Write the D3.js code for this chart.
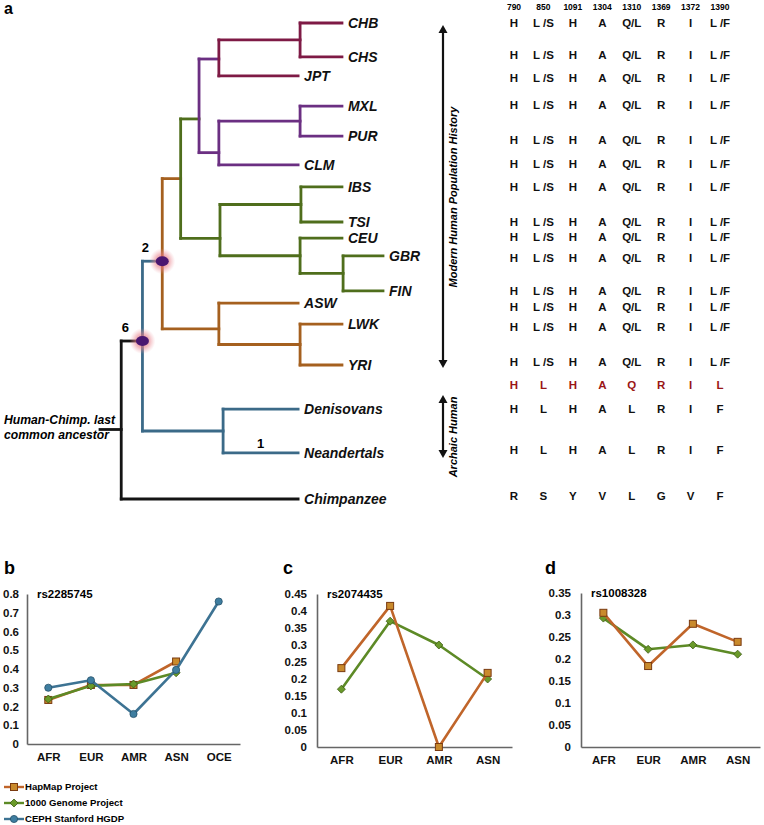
<!DOCTYPE html>
<html><head><meta charset="utf-8">
<script src="https://cdn.jsdelivr.net/npm/d3@7"></script>
<style>
body{margin:0;background:#fff;}
svg{display:block;font-family:"Liberation Sans",Arial,Helvetica,sans-serif;}
</style>
</head><body>
<svg id="fig" width="764" height="825"></svg>
<script>
// ---------------- DATA ----------------
// Panel a: dendrogram leaves (top to bottom), their row positions and tip depths
const leafNames  = ["CHB","CHS","JPT","MXL","PUR","CLM","IBS","TSI","CEU","GBR","FIN","ASW","LWK","YRI","Denisovans","Neandertals","Chimpanzee"];
const leafRows   = [0,1.54,2.40,3.77,5.13,6.44,7.44,9.03,9.76,10.57,12.16,12.71,13.66,15.52,17.52,19.51,21.6];
const leafDepths = [8.55,8.55,7.0,8.55,8.55,7.0,8.55,8.55,8.55,10,10,7.0,8.55,8.55,7.0,7.0,7.0];
// rows of the amino-acid table (one per leaf, same order)
const tableRows  = [0,1.45,2.5,3.72,5.31,6.4,7.44,9.03,9.71,10.66,12.16,12.89,13.8,15.38,17.51,19.37,21.46];
const ancestralRow = 16.43;

const C_BLACK="#141414", C_BLUE="#3b6a88", C_ORANGE="#a5601f", C_GREEN="#4f6e1c", C_PURPLE="#6b2f82", C_MAROON="#7e1a45";
// internal nodes: depth (branch position), colour, attach fraction, node label
const tree = {depth:0.75, color:C_BLACK, attach:0.56, children:[
  {depth:1.5, color:C_BLUE, attach:0.47, label:"6", children:[
    {depth:2.2, color:C_ORANGE, attach:0.55, label:"2", children:[
      {depth:2.85, color:C_GREEN, attach:0.5, children:[
        {depth:3.5, color:C_PURPLE, attach:0.64, children:[
          {depth:4.2, color:C_MAROON, attach:0.53, children:[
            {depth:7.07, color:C_MAROON, children:["CHB","CHS"]}, "JPT"]},
          {depth:4.2, color:C_PURPLE, attach:0.72, children:[
            {depth:7.07, color:C_PURPLE, children:["MXL","PUR"]}, "CLM"]}
        ]},
        {depth:4.24, color:C_GREEN, attach:0.66, children:[
          {depth:7.1, color:C_GREEN, children:["IBS","TSI"]},
          {depth:7.07, color:C_GREEN, children:["CEU", {depth:8.59, color:C_GREEN, children:["GBR","FIN"]}]}
        ]}
      ]},
      {depth:4.2, color:C_ORANGE, attach:0.62, children:[
        "ASW", {depth:7.07, color:C_ORANGE, children:["LWK","YRI"]}]}
    ]},
    {depth:4.35, color:C_BLUE, children:["Denisovans","Neandertals"]}
  ]},
  "Chimpanzee"
]};
const branchLabels = [{leaf:"Neandertals", text:"1"}];

// amino-acid table
const aaPositions = ["790","850","1091","1304","1310","1369","1372","1390"];
const modernAA    = ["H","L /S","H","A","Q/L","R","I","L /F"];
const ancestralAA = ["H","L","H","A","Q","R","I","L"];
const archaicAA   = ["H","L","H","A","L","R","I","F"];
const chimpAA     = ["R","S","Y","V","L","G","V","F"];

// Panels b-d
const regions5 = ["AFR","EUR","AMR","ASN","OCE"];
const regions4 = ["AFR","EUR","AMR","ASN"];
const seriesNames = ["HapMap Project","1000 Genome Project","CEPH Stanford HGDP"];
const b_hapmap = [0.235,0.315,0.315,0.44];
const b_g1000  = [0.24,0.31,0.32,0.38];
const b_hgdp   = [0.30,0.34,0.16,0.395,0.76];
const c_hapmap = [0.232,0.415,0.0,0.218];
const c_g1000  = [0.17,0.37,0.30,0.20];
const d_hapmap = [0.305,0.184,0.28,0.239];
const d_g1000  = [0.293,0.222,0.232,0.211];

// ---------------- DRAW ----------------
const svg = d3.select("#fig");
const defs = svg.append("defs");
const grad = defs.append("radialGradient").attr("id","glow");
grad.append("stop").attr("offset","0%").attr("stop-color","#e0606a").attr("stop-opacity",0.85);
grad.append("stop").attr("offset","55%").attr("stop-color","#e8808a").attr("stop-opacity",0.55);
grad.append("stop").attr("offset","100%").attr("stop-color","#f0a0a8").attr("stop-opacity",0);

const FB = "bold";
// panel letters
[["a",4,14,16],["b",4,574,18],["c",283,574,18],["d",545,574,18]].forEach(([t,x,y,fs])=>{
  svg.append("text").attr("x",x).attr("y",y).attr("font-size",fs).attr("font-weight",FB).text(t);
});

// ---- tree ----
const xT = d3.scaleLinear().domain([0,10]).range([100,383]);
const yT = d3.scaleLinear().domain([0,21.6]).range([23,499]);
const leafMap = {};
leafNames.forEach((n,i)=>leafMap[n]={name:n,row:leafRows[i],depth:leafDepths[i],trow:tableRows[i]});

function layout(node){
  if(typeof node==="string"){ const l=leafMap[node]; l.x=xT(l.depth); l.y=yT(l.row); l.leaf=true; return l; }
  node.kids = node.children.map(layout);
  node.x = xT(node.depth);
  node.top = node.kids[0].y; node.bot = node.kids[node.kids.length-1].y;
  node.y = node.top + (node.bot-node.top)*(node.attach==null?0.5:node.attach);
  return node;
}
layout(tree);
const gT = svg.append("g").attr("stroke-linecap","square").attr("fill","none");
const internals=[];
(function walk(n){ if(n.leaf) return; internals.push(n); n.kids.forEach(walk); })(tree);
internals.forEach(n=>{
  gT.append("line").attr("x1",n.x).attr("x2",n.x).attr("y1",n.top).attr("y2",n.bot)
    .attr("stroke",n.color).attr("stroke-width",2.8);
  n.kids.forEach(k=>{
    gT.append("line").attr("x1",n.x).attr("x2",k.x).attr("y1",k.y).attr("y2",k.y)
      .attr("stroke",n.color).attr("stroke-width",2.8);
  });
});
// root stub
gT.append("line").attr("x1",xT(0)).attr("x2",tree.x).attr("y1",tree.y).attr("y2",tree.y)
  .attr("stroke",C_BLACK).attr("stroke-width",2.8);
svg.append("text").attr("x",4).attr("y",tree.y-5).attr("font-size",12.2).attr("font-weight",FB)
  .attr("font-style","italic").text("Human-Chimp. last");
svg.append("text").attr("x",4).attr("y",tree.y+10).attr("font-size",12.2).attr("font-weight",FB)
  .attr("font-style","italic").text("common ancestor");
// leaf labels
leafNames.forEach(n=>{
  const l=leafMap[n];
  svg.append("text").attr("x",l.x+6).attr("y",l.y).attr("dy","0.36em")
    .attr("font-size",14).attr("font-weight",FB).attr("font-style","italic").attr("fill","#111").text(n);
});
// node markers
internals.filter(n=>n.label).forEach(n=>{
  svg.append("circle").attr("cx",n.x).attr("cy",n.y).attr("r",13).attr("fill","url(#glow)");
  svg.append("ellipse").attr("cx",n.x).attr("cy",n.y).attr("rx",6.5).attr("ry",5).attr("fill","#4a1670");
  svg.append("text").attr("x",n.x-17).attr("y",n.y-14).attr("dy","0.36em").attr("text-anchor","middle")
    .attr("font-size",13).attr("font-weight",FB).text(n.label);
});
branchLabels.forEach(b=>{
  const l=leafMap[b.leaf];
  const parentX = internals.find(n=>n.kids.includes(l)).x;
  svg.append("text").attr("x",(parentX+l.x)/2).attr("y",l.y-5).attr("text-anchor","middle")
    .attr("font-size",13).attr("font-weight",FB).text(b.text);
});

// arrows
function dblArrow(x,y1,y2){
  const g=svg.append("g");
  g.append("line").attr("x1",x).attr("x2",x).attr("y1",y1+6).attr("y2",y2-6).attr("stroke","#111").attr("stroke-width",2.2);
  g.append("path").attr("d",`M${x-4.5},${y1+8}L${x},${y1}L${x+4.5},${y1+8}Z`).attr("fill","#111");
  g.append("path").attr("d",`M${x-4.5},${y2-8}L${x},${y2}L${x+4.5},${y2-8}Z`).attr("fill","#111");
}
dblArrow(443,25,368);
dblArrow(443,395,458);
svg.append("text").attr("transform","translate(453,197) rotate(-90)").attr("text-anchor","middle")
  .attr("dy","0.35em").attr("font-size",11).attr("font-weight",FB).attr("font-style","italic").text("Modern Human Population History");
svg.append("text").attr("transform","translate(453,437) rotate(-90)").attr("text-anchor","middle")
  .attr("dy","0.35em").attr("font-size",11).attr("font-weight",FB).attr("font-style","italic").text("Archaic Human");

// table
const xC = d3.scalePoint().domain(aaPositions).range([514,720]);
const gTab = svg.append("g").attr("text-anchor","middle").attr("font-weight",FB);
aaPositions.forEach(p=>{
  gTab.append("text").attr("x",xC(p)).attr("y",7).attr("dy","0.36em").attr("font-size",8.5).text(p);
});
function tableRow(vals,row,color){
  vals.forEach((v,i)=>{
    gTab.append("text").attr("x",xC(aaPositions[i])).attr("y",yT(row)).attr("dy","0.36em")
      .attr("font-size",11.5).attr("fill",color).text(v);
  });
}
leafNames.slice(0,14).forEach(n=>tableRow(modernAA,leafMap[n].trow,"#111"));
tableRow(ancestralAA,ancestralRow,"#9a1616");
tableRow(archaicAA,leafMap["Denisovans"].trow,"#111");
tableRow(archaicAA,leafMap["Neandertals"].trow,"#111");
tableRow(chimpAA,leafMap["Chimpanzee"].trow,"#111");

// ---- line charts ----
const SER = [
  {color:"#c0652a", fill:"#c98a2c", stroke:"#7a3a10", shape:"square"},
  {color:"#5d8a26", fill:"#6a9a2a", stroke:"#3c5a14", shape:"diamond"},
  {color:"#3d7393", fill:"#3f7ea0", stroke:"#24506a", shape:"circle"}
];
function marker(g,x,y,s){
  const st=SER[s];
  if(st.shape==="square") g.append("rect").attr("x",x-3.5).attr("y",y-3.5).attr("width",7).attr("height",7)
      .attr("fill",st.fill).attr("stroke",st.stroke).attr("stroke-width",1);
  else if(st.shape==="diamond") g.append("path").attr("d",`M${x},${y-4}L${x+4},${y}L${x},${y+4}L${x-4},${y}Z`)
      .attr("fill",st.fill).attr("stroke",st.stroke).attr("stroke-width",0.8);
  else g.append("circle").attr("cx",x).attr("cy",y).attr("r",3.6).attr("fill",st.fill).attr("stroke",st.stroke).attr("stroke-width",0.8);
}
function fmt(d){ return d===0 ? "0" : String(+d.toFixed(2)); }
function chart(cfg){
  const y = d3.scaleLinear().domain([0,cfg.max]).range([cfg.y0,cfg.y1]);
  const x = d3.scalePoint().domain(cfg.cats).range([cfg.x0,cfg.x1]).padding(0.5);
  const g = svg.append("g");
  const ticks = d3.range(0, Math.round(cfg.max/cfg.step)+1).map(i=>+(i*cfg.step).toFixed(2));
  const ya = g.append("g").attr("transform",`translate(${cfg.x0},0)`)
    .call(d3.axisLeft(y).tickValues(ticks).tickFormat(fmt).tickSize(0).tickPadding(cfg.pad));
  const xa = g.append("g").attr("transform",`translate(0,${cfg.y0})`)
    .call(d3.axisBottom(x).tickSize(0).tickPadding(9));
  [ya,xa].forEach(a=>{
    a.select(".domain").attr("stroke","#666").attr("stroke-width",1.6);
    a.selectAll("text").attr("font-size",11.5).attr("font-weight",FB).attr("fill","#111")
      .attr("font-family","Liberation Sans, Arial, sans-serif");
  });
  g.append("text").attr("x",cfg.x0+10).attr("y",cfg.y1).attr("dy","0.36em")
    .attr("font-size",11.5).attr("font-weight",FB).text(cfg.title);
  cfg.series.forEach(s=>{
    const st=SER[s.idx];
    const pts = s.vals.map((v,i)=>[x(cfg.cats[i]), y(v)]);
    g.append("path").attr("d",d3.line()(pts)).attr("fill","none").attr("stroke",st.color)
      .attr("stroke-width",2.6).attr("stroke-linejoin","round");
    pts.forEach(p=>marker(g,p[0],p[1],s.idx));
  });
}
chart({x0:27,x1:240,y0:744,y1:594,max:0.8,step:0.1,pad:8,cats:regions5,title:"rs2285745",
  series:[{idx:0,vals:b_hapmap},{idx:1,vals:b_g1000},{idx:2,vals:b_hgdp}]});
chart({x0:317,x1:512,y0:747,y1:594,max:0.45,step:0.05,pad:10,cats:regions4,title:"rs2074435",
  series:[{idx:1,vals:c_g1000},{idx:0,vals:c_hapmap}]});
chart({x0:581,x1:760,y0:747,y1:593,max:0.35,step:0.05,pad:10,cats:regions4,title:"rs1008328",
  series:[{idx:1,vals:d_g1000},{idx:0,vals:d_hapmap}]});

// legend
const gL = svg.append("g");
seriesNames.forEach((name,i)=>{
  const yy = 787 + i*16;
  gL.append("line").attr("x1",4).attr("x2",24).attr("y1",yy).attr("y2",yy).attr("stroke",SER[i].color).attr("stroke-width",2.4);
  marker(gL,14,yy,i);
  gL.append("text").attr("x",25).attr("y",yy).attr("dy","0.36em").attr("font-size",9.6).attr("font-weight",FB).text(name);
});
</script>
</body></html>
